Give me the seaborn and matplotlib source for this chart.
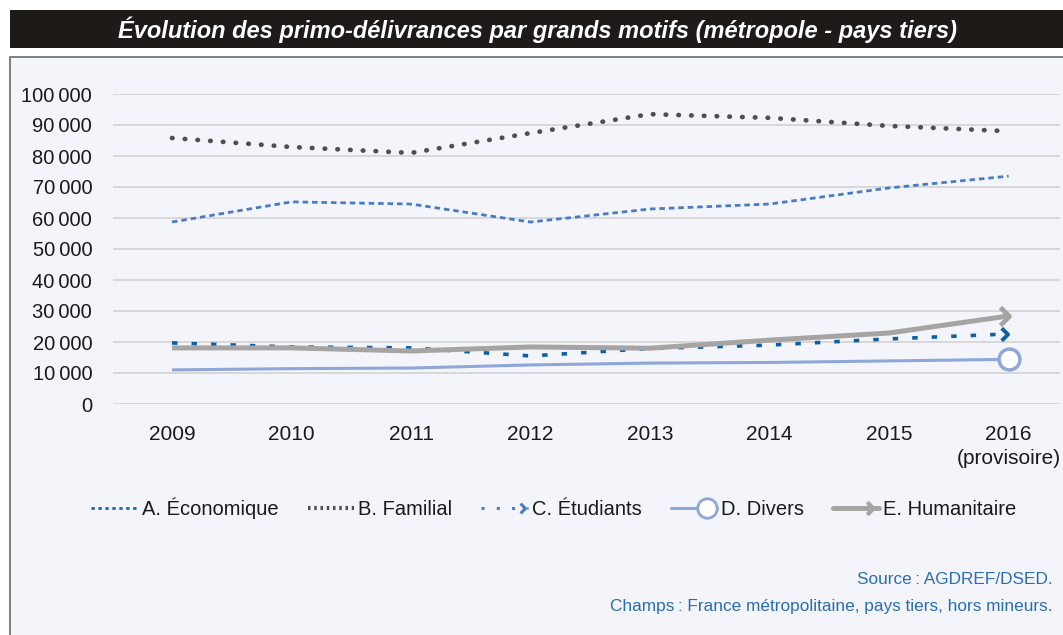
import matplotlib
matplotlib.use("Agg")
import matplotlib.pyplot as plt
from matplotlib.patches import Rectangle
from matplotlib.lines import Line2D
from matplotlib.path import Path
from matplotlib.legend_handler import HandlerLine2D
import seaborn as sns

years = ["2009", "2010", "2011", "2012", "2013", "2014", "2015", "2016"]
year_labels = ["2009", "2010", "2011", "2012", "2013", "2014", "2015", "2016\n(provisoire)"]
economique = [58700, 65200, 64500, 58700, 62900, 64500, 69700, 73500]
familial = [85800, 82900, 81000, 87400, 93500, 92300, 89700, 88000]
etudiants = [19700, 18400, 18100, 15500, 17900, 19000, 21000, 22600]
divers = [11000, 11400, 11600, 12600, 13200, 13400, 13900, 14400]
humanitaire = [18100, 18100, 17100, 18400, 18000, 20600, 22900, 28400]
series_names = ["A. Économique", "B. Familial", "C. Étudiants", "D. Divers", "E. Humanitaire"]
yticks = [0, 10000, 20000, 30000, 40000, 50000, 60000, 70000, 80000, 90000, 100000]
ytick_labels = ["0", "10\u2009000", "20\u2009000", "30\u2009000", "40\u2009000", "50\u2009000", "60\u2009000",
                "70\u2009000", "80\u2009000", "90\u2009000", "100\u2009000"]
title = "Évolution des primo-délivrances par grands motifs (métropole - pays tiers)"
source_lines = ["Source\u2009: AGDREF/DSED.", "Champs\u2009: France métropolitaine, pays tiers, hors mineurs."]

sns.set_theme(style="white")
plt.rcParams["font.family"] = ["Liberation Sans", "DejaVu Sans"]

W, H = 1063, 635
fig = plt.figure(figsize=(W / 100, H / 100), dpi=100)
fig.patch.set_facecolor("white")


def fx(px):
    return px / W


def fy(py):
    return 1 - py / H


chevron = Path([(-0.6, 1.0), (0.4, 0.0), (-0.6, -1.0)],
               [Path.MOVETO, Path.LINETO, Path.LINETO])
arrow_head = Path([(-1.0, 1.0), (0.0, 0.0), (-1.0, -1.0)],
                  [Path.MOVETO, Path.LINETO, Path.LINETO])


class EndMarkerHandler(HandlerLine2D):
    def create_artists(self, legend, orig_handle, xdescent, ydescent, width, height,
                       fontsize, trans):
        x0 = -xdescent
        x1 = -xdescent + width
        yc = (height - ydescent) / 2
        line = Line2D([x0, x1], [yc, yc])
        self.update_prop(line, orig_handle, legend)
        line.set_marker("None")
        line.set_transform(trans)
        ms = orig_handle.get_markersize()
        mk = Line2D([x1 - ms * 0.5], [yc])
        self.update_prop(mk, orig_handle, legend)
        mk.set_linestyle("None")
        mk.set_transform(trans)
        if orig_handle.get_marker() in (None, "None", "none", ""):
            return [line]
        return [line, mk]


# panels
fig.patches.append(Rectangle((fx(10), fy(48)), fx(1063) - fx(10), fy(10) - fy(48),
                             transform=fig.transFigure, facecolor="#1e1a17", edgecolor="none", zorder=-2))
fig.patches.append(Rectangle((fx(10), fy(640)), fx(1068) - fx(10), fy(57) - fy(640),
                             transform=fig.transFigure, facecolor="#f3f5fa", edgecolor="#6b6b6b",
                             linewidth=1.2, zorder=-2))
fig.text(fx(538), fy(30), title, color="white", fontsize=17, fontstyle="italic",
         fontweight="bold", ha="center", va="center")

ax = fig.add_axes([fx(113), fy(404), fx(1060) - fx(113), fy(94) - fy(404)])
ax.set_zorder(3)
ax.set_facecolor("none")
ax.patch.set_alpha(0)

x = list(range(len(years)))

styles = [
    (economique, "#4a7bc4", 2.0, (0, (2.0, 1.4)), "butt"),
    (familial, "#4f4f4f", 3.4, (0, (0.1, 2.6)), "round"),
    (etudiants, "#0b5fa5", 2.6, (0, (1.5, 3.9)), "butt"),
    (divers, "#8ea7d6", 2.2, "-", "butt"),
    (humanitaire, "#a6a5a4", 3.6, "-", "butt"),
]
for vals, col, lw, ls, cap in styles:
    sns.lineplot(x=x, y=vals, ax=ax, color=col, linewidth=lw, linestyle=ls,
                 dash_capstyle=cap, solid_capstyle="butt")

# end markers
ax.plot([x[-1]], [divers[-1]], marker="o", markersize=15, markerfacecolor="white",
        markeredgecolor="#8ea7d6", markeredgewidth=2.5, linestyle="none", zorder=5, clip_on=False)
ax.plot([x[-1] - 0.03], [etudiants[-1]], marker=chevron, markersize=9, markerfacecolor="none",
        markeredgecolor="#0b5fa5", markeredgewidth=2.8, linestyle="none", zorder=5, clip_on=False)
ax.plot([x[-1]], [humanitaire[-1]], marker=arrow_head, markersize=13, markerfacecolor="none",
        markeredgecolor="#a6a5a4", markeredgewidth=3.4, linestyle="none", zorder=5, clip_on=False)

ax.set_xlim(-0.494, 7.43)
ax.set_ylim(0, 100000)
ax.set_yticks(yticks)
ax.set_yticklabels(ytick_labels)
ax.set_xticks(x)
ax.set_xticklabels(year_labels, linespacing=1.35, va="top")
ax.tick_params(axis="y", labelsize=14.5, colors="#1a1a1a", length=0, pad=15)
ax.tick_params(axis="x", labelsize=15, colors="#1a1a1a", length=0, pad=15)
ax.grid(axis="y", color="#d0d0d0", linewidth=1.1)
ax.grid(axis="x", visible=False)
for s in ax.spines.values():
    s.set_visible(False)
ax.set_xlabel("")
ax.set_ylabel("")

handles = [
    Line2D([], [], color="#1a64ad", lw=2.0, linestyle=(0, (1.2, 1.3))),
    Line2D([], [], color="#4f4f4f", lw=3.0, linestyle=(0, (0.6, 0.9))),
    Line2D([], [], color="#4a7bc4", lw=2.2, linestyle=(0, (1.0, 4.0)), marker=chevron, markersize=7,
           markerfacecolor="none", markeredgewidth=2.2),
    Line2D([], [], color="#8ea7d6", lw=2.2, marker="o", markersize=14, markerfacecolor="white",
           markeredgewidth=2),
    Line2D([], [], color="#a6a5a4", lw=3.6, marker=arrow_head, markersize=9,
           markerfacecolor="none", markeredgewidth=3),
]
end_handler = EndMarkerHandler()
leg = fig.legend(handles, series_names, loc="center", bbox_to_anchor=(fx(554), fy(508)), ncol=5,
                 frameon=False, fontsize=14.5, handlelength=2.3, handletextpad=0.2,
                 columnspacing=1.45, numpoints=1,
                 handler_map={h: end_handler for h in handles})
for t in leg.get_texts():
    t.set_color("#1a1a1a")

fig.text(fx(1053), fy(580), source_lines[0], color="#2a6db5", fontsize=12.4, ha="right", va="center")
fig.text(fx(1053), fy(606), source_lines[1], color="#2a6db5", fontsize=12.4, ha="right", va="center")

fig.savefig("out.png", dpi=100, facecolor=fig.get_facecolor())
